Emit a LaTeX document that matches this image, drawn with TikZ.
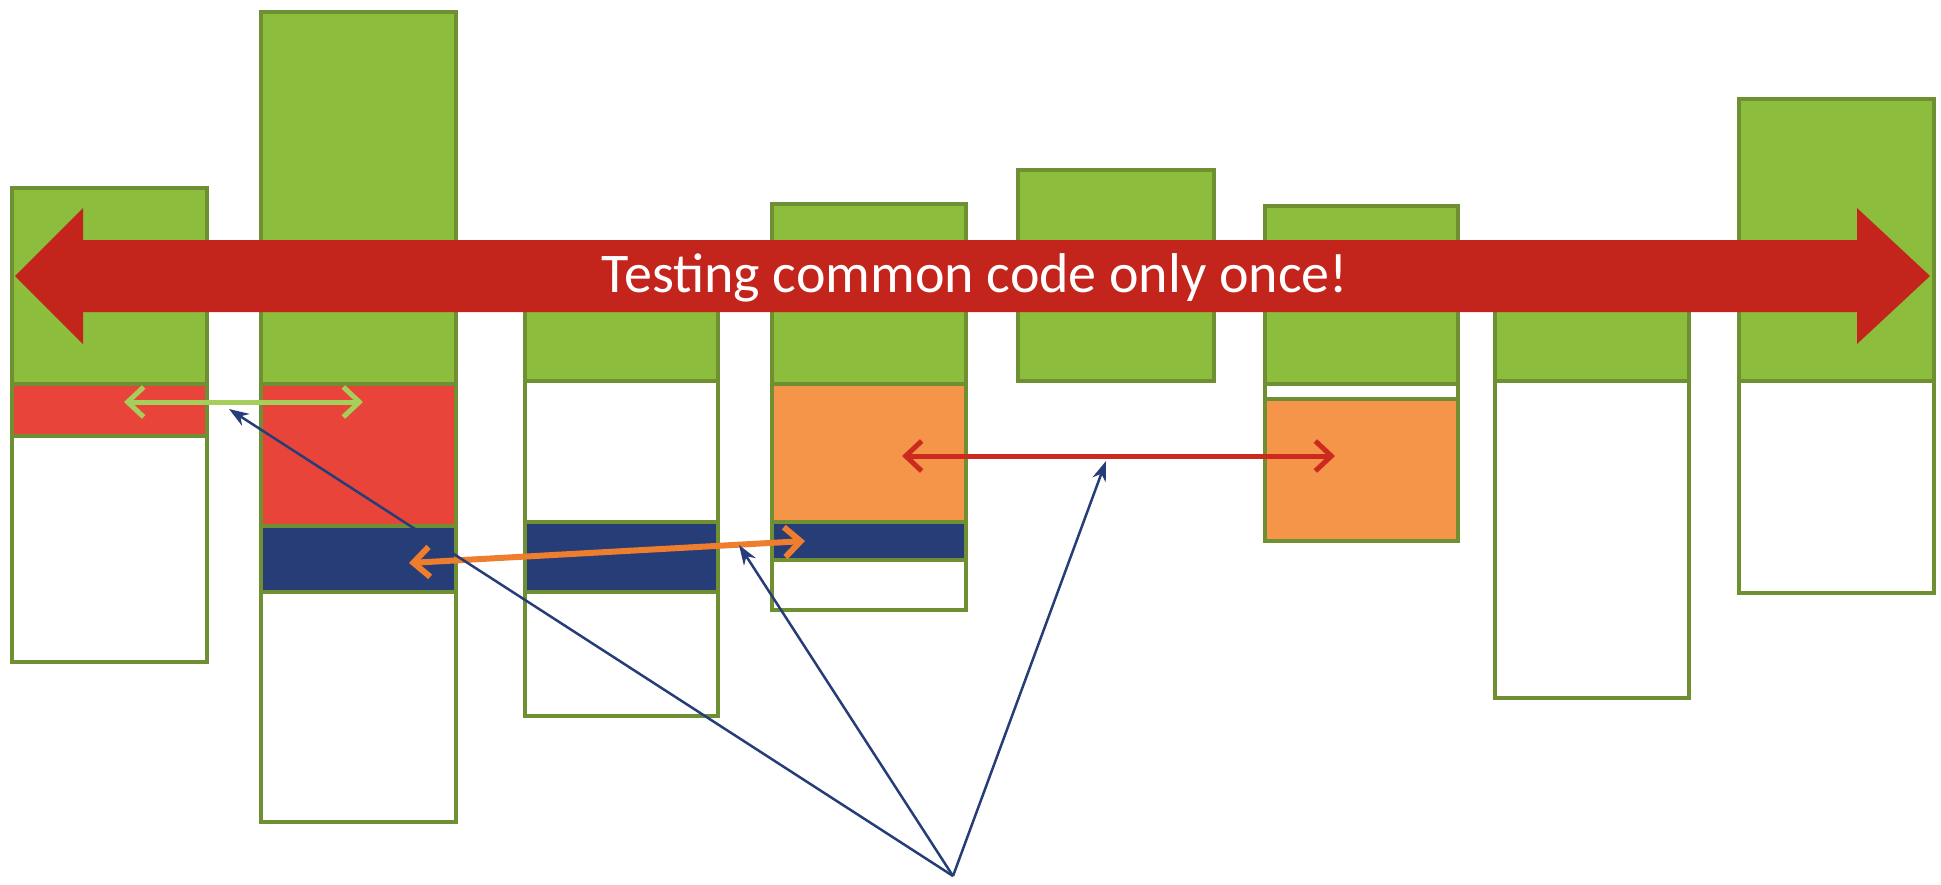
\documentclass[tikz,border=0pt]{standalone}
\usetikzlibrary{arrows.meta}
\usepackage{fontspec}
\setmainfont{Carlito}
\definecolor{leafgreen}{HTML}{8DBD3C}
\definecolor{leafedge}{HTML}{6E8F32}
\definecolor{brickred}{HTML}{E8443A}
\definecolor{tangerine}{HTML}{F5954A}
\definecolor{inkblue}{HTML}{263D78}
\definecolor{bannerred}{HTML}{C3241C}
\definecolor{lightleaf}{HTML}{A5CF5A}
\definecolor{darkorange}{HTML}{EE7E2E}
\definecolor{arrowred}{HTML}{CC2A1E}

\begin{document}
\begin{tikzpicture}[x=1pt,y=-1pt,>={Straight Barb[length=16pt,width=30pt]},
  edge/.style={draw=leafedge,line width=3.2pt},
  link/.style={inkblue,line width=2.5pt,-{Stealth[length=20pt,width=14pt]}}]
  \useasboundingbox (0,0) rectangle (1941,884);
  % columns
  \fill[leafgreen] (12,188) rectangle (207,384); \fill[brickred] (12,384) rectangle (207,436);
  \draw[edge] (12,188) rectangle (207,662); \draw[edge] (12,384)--(207,384); \draw[edge] (12,436)--(207,436);
  \fill[leafgreen] (261,12) rectangle (456,384); \fill[brickred] (261,384) rectangle (456,526);
  \fill[inkblue] (261,526) rectangle (456,592);
  \draw[edge] (261,12) rectangle (456,822); \draw[edge] (261,384)--(456,384);
  \draw[edge] (261,526)--(456,526); \draw[edge] (261,592)--(456,592);
  \fill[leafgreen] (525,262) rectangle (718,381); \fill[inkblue] (525,522) rectangle (718,592);
  \draw[edge] (525,262) rectangle (718,716); \draw[edge] (525,381)--(718,381);
  \draw[edge] (525,522)--(718,522); \draw[edge] (525,592)--(718,592);
  \fill[leafgreen] (772,204) rectangle (966,384); \fill[tangerine] (772,384) rectangle (966,522);
  \fill[inkblue] (772,522) rectangle (966,560);
  \draw[edge] (772,204) rectangle (966,610); \draw[edge] (772,384)--(966,384);
  \draw[edge] (772,522)--(966,522); \draw[edge] (772,560)--(966,560);
  \fill[leafgreen] (1018,170) rectangle (1214,381); \draw[edge] (1018,170) rectangle (1214,381);
  \fill[leafgreen] (1265,206) rectangle (1458,384); \fill[tangerine] (1265,399) rectangle (1458,541);
  \draw[edge] (1265,206) rectangle (1458,541); \draw[edge] (1265,384)--(1458,384); \draw[edge] (1265,399)--(1458,399);
  \fill[leafgreen] (1495,262) rectangle (1689,381);
  \draw[edge] (1495,262) rectangle (1689,698); \draw[edge] (1495,381)--(1689,381);
  \fill[leafgreen] (1739,99) rectangle (1934,381);
  \draw[edge] (1739,99) rectangle (1934,593); \draw[edge] (1739,381)--(1934,381);
  % banner arrow
  \fill[bannerred] (15,276)--(83,208)--(83,240)--(1857,240)--(1857,208)--(1930,276)--(1857,344)--(1857,312)--(83,312)--(83,344)--cycle;
  \node[text=white,font=\fontsize{56}{66}\selectfont] (banner) at (975,278) {Testing common code only once!};
  % small arrows
  \coordinate (g1) at (124,402); \coordinate (g2) at (363,402);
  \coordinate (o1) at (409,563); \coordinate (o2) at (805,541);
  \coordinate (r1) at (902,456); \coordinate (r2) at (1335,456);
  \draw[lightleaf,line width=5pt,<->] (g1)--(g2);
  \draw[darkorange,line width=6pt,<->] (o1)--(o2);
  \draw[arrowred,line width=5pt,<->] (r1)--(r2);
  % pointers
  \coordinate (hub) at (953,876);
  \coordinate (p1) at (229,409); \coordinate (p2) at (739,545); \coordinate (p3) at (1106,461);
  \draw[link] (hub)--(p1); \draw[link] (hub)--(p2); \draw[link] (hub)--(p3);
\end{tikzpicture}
\end{document}
